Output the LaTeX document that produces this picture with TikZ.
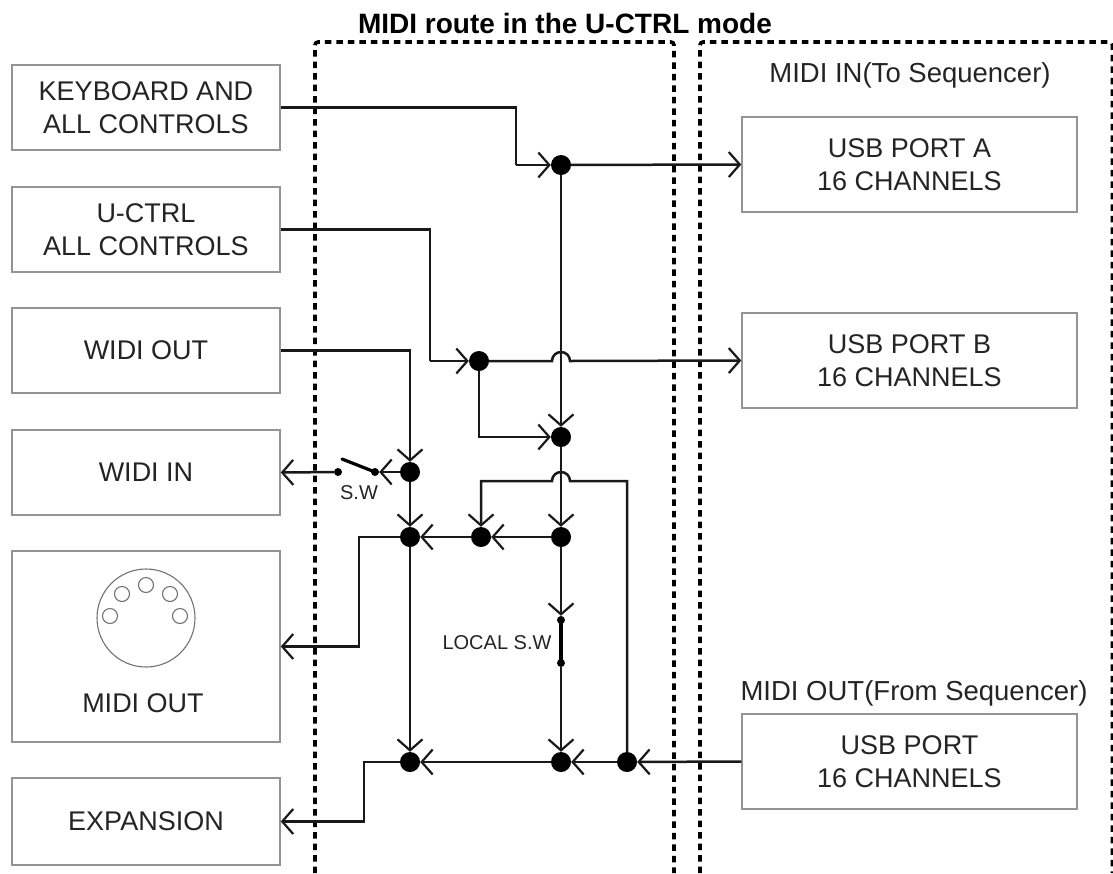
\documentclass[tikz,border=0pt]{standalone}
\usepackage{fontspec}
\setmainfont{Liberation Sans}
\usetikzlibrary{arrows.meta}
\definecolor{txt}{gray}{0.14}
\tikzset{
  x=1pt,y=-1pt,
  block/.style={draw=black!42,line width=1.5pt,fill=white,minimum width=268pt,align=center,text=txt,font=\fontsize{27}{32.5}\selectfont,inner sep=0pt},
  rblock/.style={block,minimum width=335pt},
  wire/.style={line width=2.5pt,black!90,line join=miter},
  arr/.style={wire,-{Straight Barb[length=11pt,width=25pt,line width=2.2pt]}},
  blade/.style={line width=3.2pt,black,line cap=round},
  jdot/.style={circle,fill=black,inner sep=0pt,minimum size=20pt},
  sdot/.style={circle,fill=black,inner sep=0pt,minimum size=8pt},
  zone/.style={line width=3.6pt,dash pattern=on 6.5pt off 5pt,black,rounded corners=3pt},
  lab/.style={text=txt,inner sep=0pt},
  din/.style={draw=black!55,line width=1.1pt,fill=white},
}
\begin{document}
\begin{tikzpicture}
\useasboundingbox (0,0) rectangle (1113,873);
% zones
\draw[zone] (315,873) -- (315,42) -- (674,42) -- (674,873);
\draw[zone] (700,873) -- (700,42) -- (1112.5,42) -- (1112.5,873);
% title
\node[font=\bfseries\fontsize{28}{33}\selectfont,inner sep=0pt] (title) at (565,23) {MIDI route in the U-CTRL mode};
% blocks
\node[block,minimum height=85pt] (kb) at (146,107.5) {KEYBOARD AND\\ALL CONTROLS};
\node[block,minimum height=85pt] (uc) at (146,229.5) {U-CTRL\\ALL CONTROLS};
\node[block,minimum height=85pt] (wo) at (146,350.5) {WIDI OUT};
\node[block,minimum height=85pt] (wi) at (146,472.5) {WIDI IN};
\node[block,minimum height=191pt] (mo) at (146,646.5) {};
\node[block,minimum height=87pt] (ex) at (146,821.5) {EXPANSION};
\node[rblock,minimum height=95pt] (ua) at (909.5,164.5) {USB PORT A\\16 CHANNELS};
\node[rblock,minimum height=95pt] (ub) at (909.5,360.5) {USB PORT B\\16 CHANNELS};
\node[rblock,minimum height=95pt] (up) at (909.5,761.5) {USB PORT\\16 CHANNELS};
\node[lab,font=\fontsize{27}{33}\selectfont] (mot) at (143,703) {MIDI OUT};
\node[lab,font=\fontsize{27.5}{33}\selectfont] (min) at (910,75) {MIDI IN(To Sequencer)};
\node[lab,font=\fontsize{27.5}{33}\selectfont] (mos) at (914,693) {MIDI OUT(From Sequencer)};
% DIN socket
\node[din,circle,minimum size=98pt,inner sep=0pt] (din) at (146,618) {};
\foreach \n/\px/\py in {a/110/616,b/122/594,c/146/585,d/170/594,e/180/616}
  \node[din,circle,minimum size=15pt,inner sep=0pt] (pin\n) at (\px,\py) {};
% junctions
\node[jdot] (j1) at (561,165) {};
\node[jdot] (j2) at (479,361) {};
\node[jdot] (j3) at (561,437) {};
\node[jdot] (j4) at (410,472) {};
\node[jdot] (j5) at (410,537) {};
\node[jdot] (j6) at (481,537) {};
\node[jdot] (j7) at (561,537) {};
\node[jdot] (j8) at (410,762) {};
\node[jdot] (j9) at (561,762) {};
\node[jdot] (j10) at (627,762) {};
% switch contacts
\node[sdot] (s1) at (375,472) {};
\node[sdot] (s2) at (338,472) {};
\node[sdot] (l1) at (561,620) {};
\node[sdot] (l2) at (561,663) {};
\coordinate (b1) at (342,459);
% routing
\draw[wire] (kb.east) -| (516,165) coordinate (k1);
\draw[arr] (k1) -- (j1);
\draw[arr] (j1) -- (ua.west);
\draw[wire] (uc.east) -| (430,361) coordinate (k2);
\draw[arr] (k2) -- (j2);
\draw[arr] (j2) -- (552,361) arc[start angle=180,end angle=0,radius=9pt] -- (ub.west);
\draw[arr] (j1) -- (j3);
\draw[arr] (j2) |- (j3);
\draw[arr] (j3) -- (j7);
\draw[wire] (wo.east) -| (410,440) coordinate (k4);
\draw[arr] (k4) -- (j4);
\draw[arr] (j4) -- (j5);
\draw[arr] (j4) -- (s1);
\draw[blade] (s1.center) -- (b1);
\draw[arr] (s2) -- (wi.east);
\draw[arr] (j7) -- (j6);
\draw[arr] (j6) -- (j5);
\draw[wire] (j5) -| (359,600) coordinate (k5);
\draw[arr] (k5) |- (mo.east);
\draw[arr] (j7) -- (l1);
\draw[blade] (l1.center) -- (l2.center);
\draw[arr] (l2) -- (j9);
\draw[arr] (j5) -- (j8);
\draw[arr] (j10) -- (627,481) -- (570,481) arc[start angle=0,end angle=180,radius=9pt] -- (481,481) -- (j6);
\draw[arr] (up.west) -- (j10);
\draw[arr] (j10) -- (j9);
\draw[arr] (j9) -- (j8);
\draw[wire] (j8) -| (364,800) coordinate (k6);
\draw[arr] (k6) |- (ex.east);
% switch labels
\node[lab,font=\fontsize{20}{24}\selectfont] (swl) at (359,493) {S.W};
\node[lab,font=\fontsize{20}{24}\selectfont] (lsw) at (497,643) {LOCAL S.W};
\end{tikzpicture}
\end{document}
